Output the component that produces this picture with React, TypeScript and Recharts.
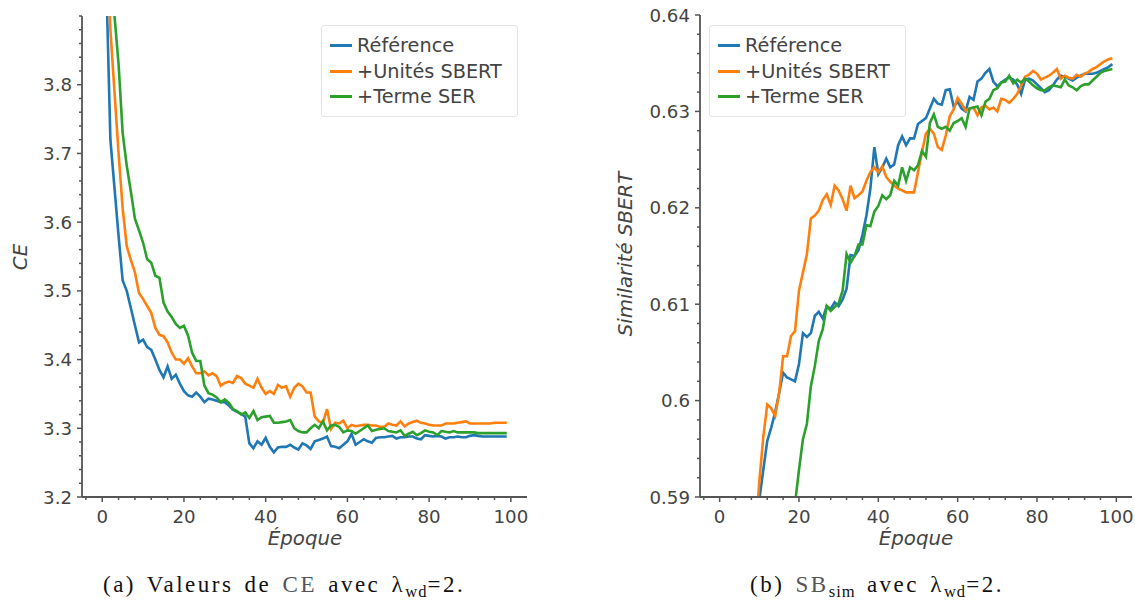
import React from 'react';
import { LineChart, Line, XAxis, YAxis, Legend } from 'recharts';

// ---------- DATA ----------
const epochs: number[] = Array.from({ length: 100 }, (_, i) => i);

const seriesNames = ['Référence', '+Unités SBERT', '+Terme SER'];
const seriesColors = ['#1f77b4', '#ff7f0e', '#2ca02c'];

const ceReference = [
  4.4, 3.95, 3.72, 3.65, 3.58, 3.515, 3.5, 3.475, 3.45, 3.425,
  3.429, 3.418, 3.414, 3.4, 3.385, 3.374, 3.39, 3.372, 3.378, 3.365,
  3.354, 3.348, 3.346, 3.352, 3.346, 3.338, 3.343, 3.342, 3.34, 3.338,
  3.338, 3.333, 3.327, 3.324, 3.321, 3.317, 3.278, 3.271, 3.281, 3.276,
  3.286, 3.273, 3.265, 3.272, 3.273, 3.273, 3.276, 3.272, 3.269, 3.278,
  3.275, 3.27, 3.281, 3.283, 3.285, 3.288, 3.274, 3.273, 3.271, 3.276,
  3.281, 3.292, 3.276, 3.28, 3.284, 3.281, 3.279, 3.286, 3.287, 3.287,
  3.288, 3.289, 3.285, 3.287, 3.287, 3.288, 3.288, 3.285, 3.284, 3.29,
  3.289, 3.288, 3.289, 3.288, 3.285, 3.287, 3.287, 3.288, 3.287, 3.287,
  3.289, 3.29, 3.289, 3.288, 3.288, 3.288, 3.288, 3.288, 3.288, 3.288,
];
const ceUnites = [
  4.5, 4.02, 3.88, 3.79, 3.7, 3.62, 3.565, 3.545, 3.527, 3.497,
  3.488, 3.478, 3.468, 3.446, 3.436, 3.434, 3.425, 3.41, 3.4, 3.4,
  3.394, 3.402, 3.39, 3.38, 3.38, 3.383, 3.377, 3.38, 3.376, 3.362,
  3.366, 3.368, 3.366, 3.376, 3.373, 3.365, 3.362, 3.359, 3.372, 3.359,
  3.35, 3.354, 3.35, 3.363, 3.359, 3.361, 3.346, 3.359, 3.365, 3.361,
  3.352, 3.352, 3.317, 3.31, 3.308, 3.328, 3.299, 3.308, 3.307, 3.311,
  3.3, 3.305, 3.303, 3.304, 3.305, 3.305, 3.304, 3.304, 3.302, 3.302,
  3.307, 3.305, 3.304, 3.31, 3.303, 3.307, 3.309, 3.311, 3.308, 3.307,
  3.305, 3.304, 3.304, 3.304, 3.307, 3.307, 3.307, 3.308, 3.309, 3.31,
  3.307, 3.307, 3.307, 3.307, 3.307, 3.307, 3.308, 3.308, 3.308, 3.308,
];
const ceTerme = [
  4.6, 4.25, 4.02, 3.9, 3.83, 3.73, 3.682, 3.645, 3.605, 3.588,
  3.57, 3.546, 3.541, 3.522, 3.519, 3.483, 3.47, 3.462, 3.452, 3.446,
  3.449, 3.435, 3.41, 3.398, 3.398, 3.362, 3.351, 3.349, 3.345, 3.338,
  3.342, 3.337, 3.328, 3.325, 3.32, 3.323, 3.315, 3.325, 3.312, 3.316,
  3.317, 3.318, 3.308, 3.308, 3.309, 3.31, 3.312, 3.3, 3.296, 3.294,
  3.294, 3.3, 3.305, 3.3, 3.31, 3.297, 3.304, 3.305, 3.302, 3.294,
  3.297, 3.296, 3.292, 3.296, 3.3, 3.304, 3.296, 3.298, 3.299, 3.3,
  3.296, 3.295, 3.294, 3.297, 3.289, 3.292, 3.295, 3.29, 3.293, 3.297,
  3.295, 3.294, 3.29, 3.296, 3.295, 3.294, 3.296, 3.294, 3.294, 3.294,
  3.294, 3.294, 3.293, 3.293, 3.293, 3.293, 3.293, 3.293, 3.293, 3.293,
];

const sbReference = [
  0.5, 0.52, 0.54, 0.553, 0.562, 0.569, 0.574, 0.578, 0.582, 0.586,
  0.5897, 0.5928, 0.5958, 0.5972, 0.5988, 0.6008, 0.6029, 0.6024, 0.6022, 0.602,
  0.6038, 0.607, 0.6066, 0.607, 0.6088, 0.6092, 0.6085, 0.6098, 0.6095, 0.6102,
  0.6098, 0.6105, 0.6116, 0.6151, 0.615, 0.6156, 0.6172, 0.6192, 0.622, 0.6263,
  0.6235, 0.6242, 0.6251, 0.6242, 0.6245, 0.6265, 0.6274, 0.6265, 0.6272, 0.6272,
  0.6287, 0.629, 0.6293, 0.6303, 0.6313, 0.6308, 0.6307, 0.6322, 0.6323, 0.6305,
  0.631, 0.6303, 0.63, 0.6315, 0.6312, 0.6331, 0.6334, 0.634, 0.6344, 0.6331,
  0.6326, 0.633, 0.6333, 0.6335, 0.6333, 0.6328, 0.6318, 0.6333, 0.6334, 0.6332,
  0.6328, 0.6324, 0.632, 0.6322, 0.6327, 0.6333, 0.6337, 0.6336, 0.6334, 0.6332,
  0.6335, 0.6337, 0.6339, 0.6339, 0.6339, 0.634, 0.6342, 0.6344, 0.6346, 0.6349,
];
const sbUnites = [
  0.5, 0.52, 0.54, 0.553, 0.563, 0.57, 0.575, 0.579, 0.583, 0.586,
  0.5916, 0.5962, 0.5996, 0.5992, 0.5984, 0.6008, 0.6046, 0.6046, 0.6067, 0.6072,
  0.6114, 0.6133, 0.6152, 0.6189, 0.6192, 0.6197, 0.6208, 0.6214, 0.6203, 0.6223,
  0.6218, 0.6209, 0.6197, 0.6223, 0.621, 0.6213, 0.6217, 0.6228, 0.6237, 0.6242,
  0.6237, 0.6243, 0.6232, 0.6227, 0.6223, 0.622, 0.6218, 0.6216, 0.6216, 0.6216,
  0.6237, 0.6258, 0.6277, 0.6282, 0.6277, 0.6263, 0.626, 0.6275, 0.6295, 0.6302,
  0.6314, 0.6308, 0.6301, 0.6303, 0.6304, 0.6296, 0.6304, 0.6306, 0.6302, 0.6304,
  0.63, 0.6313, 0.6312, 0.6309, 0.6313, 0.6318, 0.6327, 0.6336, 0.6338, 0.6342,
  0.6339, 0.6333, 0.6335, 0.6337, 0.634, 0.6344, 0.6334, 0.6337, 0.6335, 0.6334,
  0.6338, 0.6336, 0.6339, 0.6341, 0.6344, 0.6346, 0.6349, 0.6352, 0.6354, 0.6355,
];
const sbTerme = [
  0.44, 0.46, 0.48, 0.5, 0.515, 0.527, 0.537, 0.546, 0.553, 0.559,
  0.564, 0.568, 0.572, 0.575, 0.578, 0.58, 0.582, 0.584, 0.586, 0.5893,
  0.5928, 0.596, 0.5976, 0.6015, 0.6036, 0.6062, 0.6074, 0.6098, 0.6093, 0.6097,
  0.6101, 0.6114, 0.6152, 0.6143, 0.615, 0.6162, 0.6162, 0.6182, 0.6181, 0.6196,
  0.6202, 0.6213, 0.6209, 0.6213, 0.6228, 0.6223, 0.6242, 0.6228, 0.6242, 0.6239,
  0.6244, 0.6259, 0.6253, 0.6288, 0.6297, 0.6284, 0.6282, 0.6284, 0.628, 0.6288,
  0.629, 0.6293, 0.6284, 0.6303, 0.6304, 0.6305, 0.6296, 0.631, 0.6313, 0.6322,
  0.6324, 0.633, 0.6331, 0.6337, 0.6329, 0.6333, 0.633, 0.6334, 0.6331, 0.6327,
  0.6324, 0.6322, 0.6322, 0.6325, 0.6327, 0.6326, 0.6325, 0.6333, 0.6327, 0.6325,
  0.6322, 0.6326, 0.6328, 0.6328, 0.6332, 0.6336, 0.634, 0.6342, 0.6343, 0.6344,
];

// tick positions (axis configuration)
const ceTicks = Array.from({ length: 36 }, (_, i) => (3200 + 20 * i) / 1000);
const sbTicks = Array.from({ length: 26 }, (_, i) => (590 + 2 * i) / 1000);
const epochTicks = Array.from({ length: 27 }, (_, i) => -4 + 4 * i);
const ceTickLabels = ['3.2', '3.3', '3.4', '3.5', '3.6', '3.7', '3.8'];
const sbTickLabels = ['0.59', '0.6', '0.61', '0.62', '0.63', '0.64'];
const epochTickLabels = ['0', '20', '40', '60', '80', '100'];

// ---------- BUILD TABLES ----------
const ceData = epochs.map((e, i) => ({ epoch: e, s0: ceReference[i], s1: ceUnites[i], s2: ceTerme[i] }));
const sbData = epochs.map((e, i) => ({ epoch: e, s0: sbReference[i], s1: sbUnites[i], s2: sbTerme[i] }));

// ---------- STYLES ----------
const SANS = '"DejaVu Sans", "Liberation Sans", sans-serif';
const AXIS = '#555555';
const TEXT = '#444444';
const TICK_FS = 18.2;

const makeYTick = (labels: string[], labelCount: number) => (props: any) => {
  const { x, y, index } = props;
  const major = index % 5 === 0 && index / 5 < labelCount;
  const len = major ? 5 : 3;
  return (
    <g>
      <line x1={x} x2={x - len} y1={y} y2={y} stroke={AXIS} strokeWidth={1.5} />
      {major && (
        <text x={x - 10} y={y + 6.6} textAnchor="end" fill={TEXT} fontSize={TICK_FS} fontFamily={SANS}>
          {labels[index / 5]}
        </text>
      )}
    </g>
  );
};

const XTick = (props: any) => {
  const { x, y, index } = props;
  const major = (index - 1) % 5 === 0;
  const len = major ? 5 : 3;
  return (
    <g>
      <line x1={x} x2={x} y1={y} y2={y + len} stroke={AXIS} strokeWidth={1.5} />
      {major && (
        <text x={x} y={y + 25.5} textAnchor="middle" fill={TEXT} fontSize={TICK_FS} fontFamily={SANS}>
          {epochTickLabels[(index - 1) / 5]}
        </text>
      )}
    </g>
  );
};

const renderLegend = (props: any) => {
  const payload = [...(props.payload || [])].sort(
    (a: any, b: any) => seriesNames.indexOf(a.value) - seriesNames.indexOf(b.value)
  );
  return (
    <div
      style={{
        border: '1px solid #e4e4e4',
        borderRadius: 3,
        background: 'rgba(255,255,255,0.85)',
        padding: '7px 8px 7px 8px',
        boxSizing: 'border-box',
        width: 197,
        height: 92,
        fontFamily: SANS,
        fontSize: 19.3,
        color: TEXT,
      }}
    >
      {payload.map((p: any) => (
        <div key={p.value} style={{ display: 'flex', alignItems: 'center', height: 25.5, whiteSpace: 'nowrap' }}>
          <span style={{ display: 'inline-block', width: 22, height: 2.6, background: p.color, marginRight: 5 }} />
          <span>{p.value}</span>
        </div>
      ))}
    </div>
  );
};

const axisLabelStyle = { fontFamily: SANS, fontStyle: 'italic' as const, fontSize: 19.8, fill: TEXT };

interface PanelProps {
  data: any[];
  domain: [number, number];
  ticks: number[];
  yTick: (p: any) => any;
  margin: { top: number; right: number; bottom: number; left: number };
  width: number;
  height: number;
  yLabel: string;
  yLabelPos: [number, number];
  xLabelPos: [number, number];
  legendPos: [number, number];
}

const Panel = (p: PanelProps) => (
  <LineChart width={p.width} height={p.height} data={p.data} margin={p.margin}>
    <XAxis
      dataKey="epoch"
      type="number"
      domain={[-4.95, 103.95]}
      allowDataOverflow
      ticks={epochTicks}
      interval={0}
      tickSize={0}
      tickMargin={0}
      tick={XTick}
      height={40}
      axisLine={{ stroke: AXIS, strokeWidth: 1.8 }}
      tickLine={false}
      label={() => (
        <text x={p.xLabelPos[0]} y={p.xLabelPos[1]} textAnchor="middle" style={axisLabelStyle}>
          Époque
        </text>
      )}
    />
    <YAxis
      type="number"
      domain={p.domain}
      allowDataOverflow
      ticks={p.ticks}
      interval={0}
      tickSize={0}
      tickMargin={0}
      tick={p.yTick}
      width={60}
      axisLine={{ stroke: AXIS, strokeWidth: 1.8 }}
      tickLine={false}
      label={() => (
        <text
          x={p.yLabelPos[0]}
          y={p.yLabelPos[1]}
          textAnchor="middle"
          dominantBaseline="central"
          transform={`rotate(-90 ${p.yLabelPos[0]} ${p.yLabelPos[1]})`}
          style={axisLabelStyle}
        >
          {p.yLabel}
        </text>
      )}
    />
    <Legend
      layout="vertical"
      align="center"
      verticalAlign="middle"
      content={renderLegend}
      wrapperStyle={{ left: p.legendPos[0], top: p.legendPos[1], width: 197, height: 92 }}
    />
    {['s0', 's1', 's2'].map((k, i) => (
      <Line
        key={k}
        dataKey={k}
        name={seriesNames[i]}
        stroke={seriesColors[i]}
        strokeWidth={2.6}
        dot={false}
        type="linear"
        isAnimationActive={false}
      />
    ))}
  </LineChart>
);

const captionStyle: React.CSSProperties = {
  position: 'absolute',
  fontFamily: '"Liberation Serif", "DejaVu Serif", serif',
  fontSize: 23,
  letterSpacing: 2.5,
  wordSpacing: 3,
  color: '#111',
  whiteSpace: 'nowrap',
  lineHeight: 1,
};
const subStyle: React.CSSProperties = { fontSize: '0.72em', position: 'relative', top: '0.28em', letterSpacing: 1 };

export default function App() {
  return (
    <div style={{ position: 'absolute', left: 0, top: 0, width: 1135, height: 601, background: '#fff', overflow: 'hidden' }}>
      <div style={{ position: 'absolute', left: 0, top: 0 }}>
        <Panel
          data={ceData}
          domain={[3.2, 3.9]}
          ticks={ceTicks}
          yTick={makeYTick(ceTickLabels, 7)}
          margin={{ top: 16, right: 33, bottom: 23, left: 22 }}
          width={560}
          height={560}
          yLabel="CE"
          yLabelPos={[20, 257]}
          xLabelPos={[305, 545]}
          legendPos={[321, 25]}
        />
      </div>
      <div style={{ position: 'absolute', left: 600, top: 0 }}>
        <Panel
          data={sbData}
          domain={[0.59, 0.64]}
          ticks={sbTicks}
          yTick={makeYTick(sbTickLabels, 6)}
          margin={{ top: 15, right: 3, bottom: 23, left: 40 }}
          width={535}
          height={560}
          yLabel="Similarité SBERT"
          yLabelPos={[25, 254]}
          xLabelPos={[316, 545]}
          legendPos={[109, 25]}
        />
      </div>
      <div style={{ ...captionStyle, left: 103, top: 573 }}>
        (a) Valeurs de <span style={{ color: '#555' }}>CE</span> avec λ<span style={subStyle}>wd</span>=2.
      </div>
      <div style={{ ...captionStyle, left: 750, top: 573 }}>
        (b) <span style={{ color: '#555' }}>SB</span>
        <span style={subStyle}>sim</span> avec λ<span style={subStyle}>wd</span>=2.
      </div>
    </div>
  );
}
